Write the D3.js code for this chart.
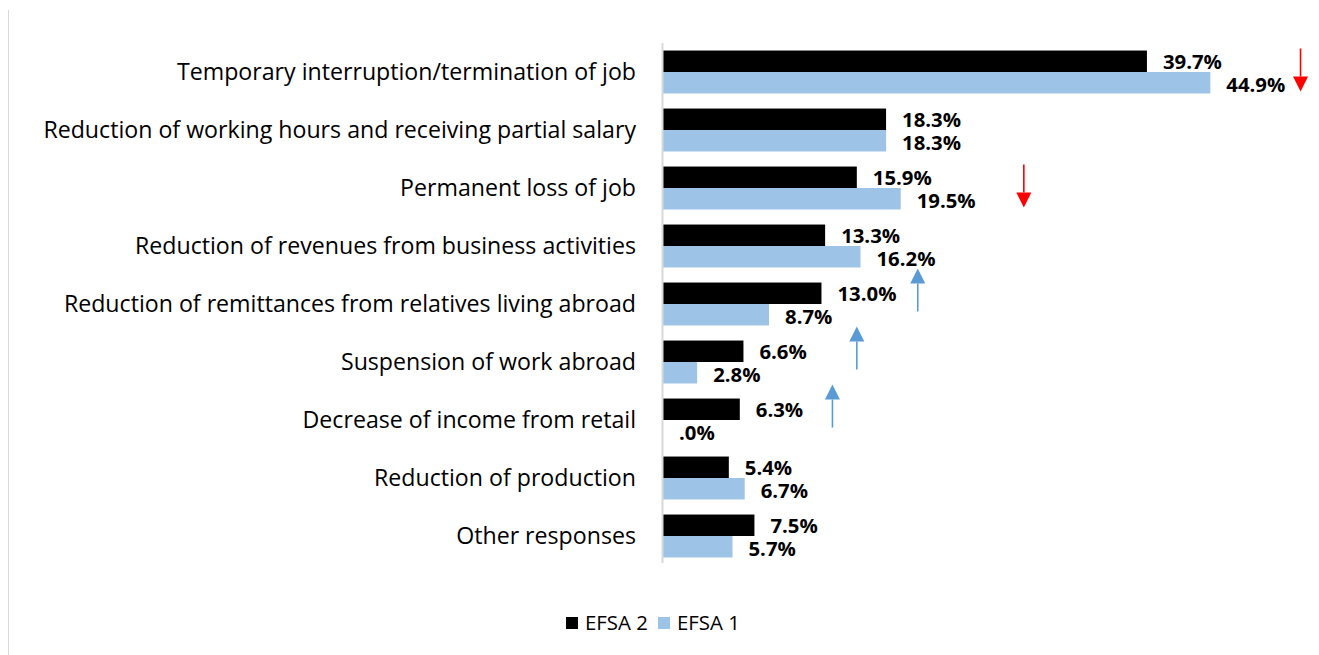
<!DOCTYPE html>
<html>
<head>
<meta charset="utf-8">
<script src="https://cdn.jsdelivr.net/npm/d3@7"></script>
<style>
  html, body { margin: 0; padding: 0; background: #fff; }
  svg { display: block; }
  text { font-family: "Open Sans", "Noto Sans", sans-serif; }
</style>
</head>
<body>
<svg id="chart" width="1319" height="655"></svg>
<script>
const categories = [
  "Temporary interruption/termination of job",
  "Reduction of working hours and receiving partial salary",
  "Permanent loss of job",
  "Reduction of revenues from business activities",
  "Reduction of remittances from relatives living abroad",
  "Suspension of work abroad",
  "Decrease of income from retail",
  "Reduction of production",
  "Other responses"
];
const efsa2 = [39.7, 18.3, 15.9, 13.3, 13.0, 6.6, 6.3, 5.4, 7.5];
const efsa1 = [44.9, 18.3, 19.5, 16.2, 8.7, 2.8, 0.0, 6.7, 5.7];
const seriesNames = ["EFSA 2", "EFSA 1"];
// change arrows: category index, value position, direction
const arrowCats = [0, 2, 4, 5, 6];
const arrowVals = [52.3, 29.6, 20.9, 15.9, 13.9];
const arrowDirs = ["down", "down", "up", "up", "up"];

const svg = d3.select("#chart");
const colors = { "EFSA 2": "#000000", "EFSA 1": "#9DC3E6" };

// chart border (left edge visible)
svg.append("line").attr("x1", 8.5).attr("x2", 8.5).attr("y1", 10).attr("y2", 655)
  .attr("stroke", "#D9D9D9").attr("stroke-width", 1);

const x = d3.scaleLinear().domain([0, 50]).range([663, 663 + 50 * 12.19]);
const y = d3.scaleBand().domain(categories).range([43, 565]).paddingInner(0.26).paddingOuter(0.13);
const bh = y.bandwidth() / 2;

function fitSize(sel, str, target, base, weight) {
  const t = sel.append("text").attr("font-size", base).attr("font-weight", weight).text(str);
  const w = t.node().getComputedTextLength();
  t.remove();
  return base * target / w;
}

const catSize = fitSize(svg, categories[1], 593, 20, "normal");
const valSize = fitSize(svg, "39.7%", 59, 16, "bold");
const legSize = fitSize(svg, "EFSA 2", 63, 16, "normal");

// bars
const rows = categories.map((c, i) => ({ c, v2: efsa2[i], v1: efsa1[i] }));
const g = svg.append("g");
g.selectAll("rect.s2").data(rows).join("rect")
  .attr("x", x(0)).attr("y", d => y(d.c)).attr("width", d => x(d.v2) - x(0)).attr("height", bh)
  .attr("fill", colors["EFSA 2"]);
g.selectAll("rect.s1").data(rows).join("rect").attr("class", "s1")
  .attr("x", x(0)).attr("y", d => y(d.c) + bh).attr("width", d => x(d.v1) - x(0)).attr("height", bh)
  .attr("fill", colors["EFSA 1"]);

// axis line
svg.append("line").attr("x1", x(0) - 0.5).attr("x2", x(0) - 0.5).attr("y1", 43).attr("y2", 563)
  .attr("stroke", "#D9D9D9").attr("stroke-width", 2);

// category labels
const yAxis = d3.axisLeft(y).tickSize(0).tickPadding(27);
const ag = svg.append("g").attr("transform", `translate(${x(0)},1)`).call(yAxis);
ag.select(".domain").remove();
ag.selectAll("text").attr("font-size", catSize).attr("fill", "#000")
  .style("font-family", '"Open Sans", "Noto Sans", sans-serif');

// value labels
const fmt = v => (v === 0 ? ".0%" : v.toFixed(1) + "%");
g.selectAll("text.l2").data(rows).join("text").attr("class", "l2")
  .attr("x", d => x(d.v2) + 16).attr("y", d => y(d.c) + bh / 2 + 0.5).attr("dy", "0.35em")
  .attr("font-size", valSize).attr("font-weight", "bold").attr("fill", "#000").text(d => fmt(d.v2));
g.selectAll("text.l1").data(rows).join("text").attr("class", "l1")
  .attr("x", d => x(d.v1) + 16).attr("y", d => y(d.c) + bh * 1.5 + 2).attr("dy", "0.35em")
  .attr("font-size", valSize).attr("font-weight", "bold").attr("fill", "#000").text(d => fmt(d.v1));

// arrows
const arrowOffsets = { down: -2, up: -14 };
arrowCats.forEach((ci, i) => {
  const dir = arrowDirs[i];
  const cx = x(arrowVals[i]);
  const cy = y(categories[ci]) + y.bandwidth() / 2 + arrowOffsets[dir];
  const col = dir === "down" ? "#FF0000" : "#5B9BD5";
  const half = 21.5, head = 15, hw = 7.5;
  const top = cy - half, bot = cy + half;
  if (dir === "down") {
    svg.append("line").attr("x1", cx).attr("x2", cx).attr("y1", top).attr("y2", bot - head)
      .attr("stroke", col).attr("stroke-width", 1.6);
    svg.append("path").attr("d", `M${cx - hw},${bot - head} L${cx + hw},${bot - head} L${cx},${bot} Z`).attr("fill", col);
  } else {
    svg.append("line").attr("x1", cx).attr("x2", cx).attr("y1", top + head).attr("y2", bot)
      .attr("stroke", col).attr("stroke-width", 1.6);
    svg.append("path").attr("d", `M${cx - hw},${top + head} L${cx + hw},${top + head} L${cx},${top} Z`).attr("fill", col);
  }
});

// legend
const lg = svg.append("g");
const legX = [566, 658];
seriesNames.forEach((s, i) => {
  lg.append("rect").attr("x", legX[i]).attr("y", 617).attr("width", 12).attr("height", 12).attr("fill", colors[s]);
  lg.append("text").attr("x", legX[i] + 19).attr("y", 623).attr("dy", "0.35em")
    .attr("font-size", legSize).attr("fill", "#000").text(s);
});
</script>
</body>
</html>
